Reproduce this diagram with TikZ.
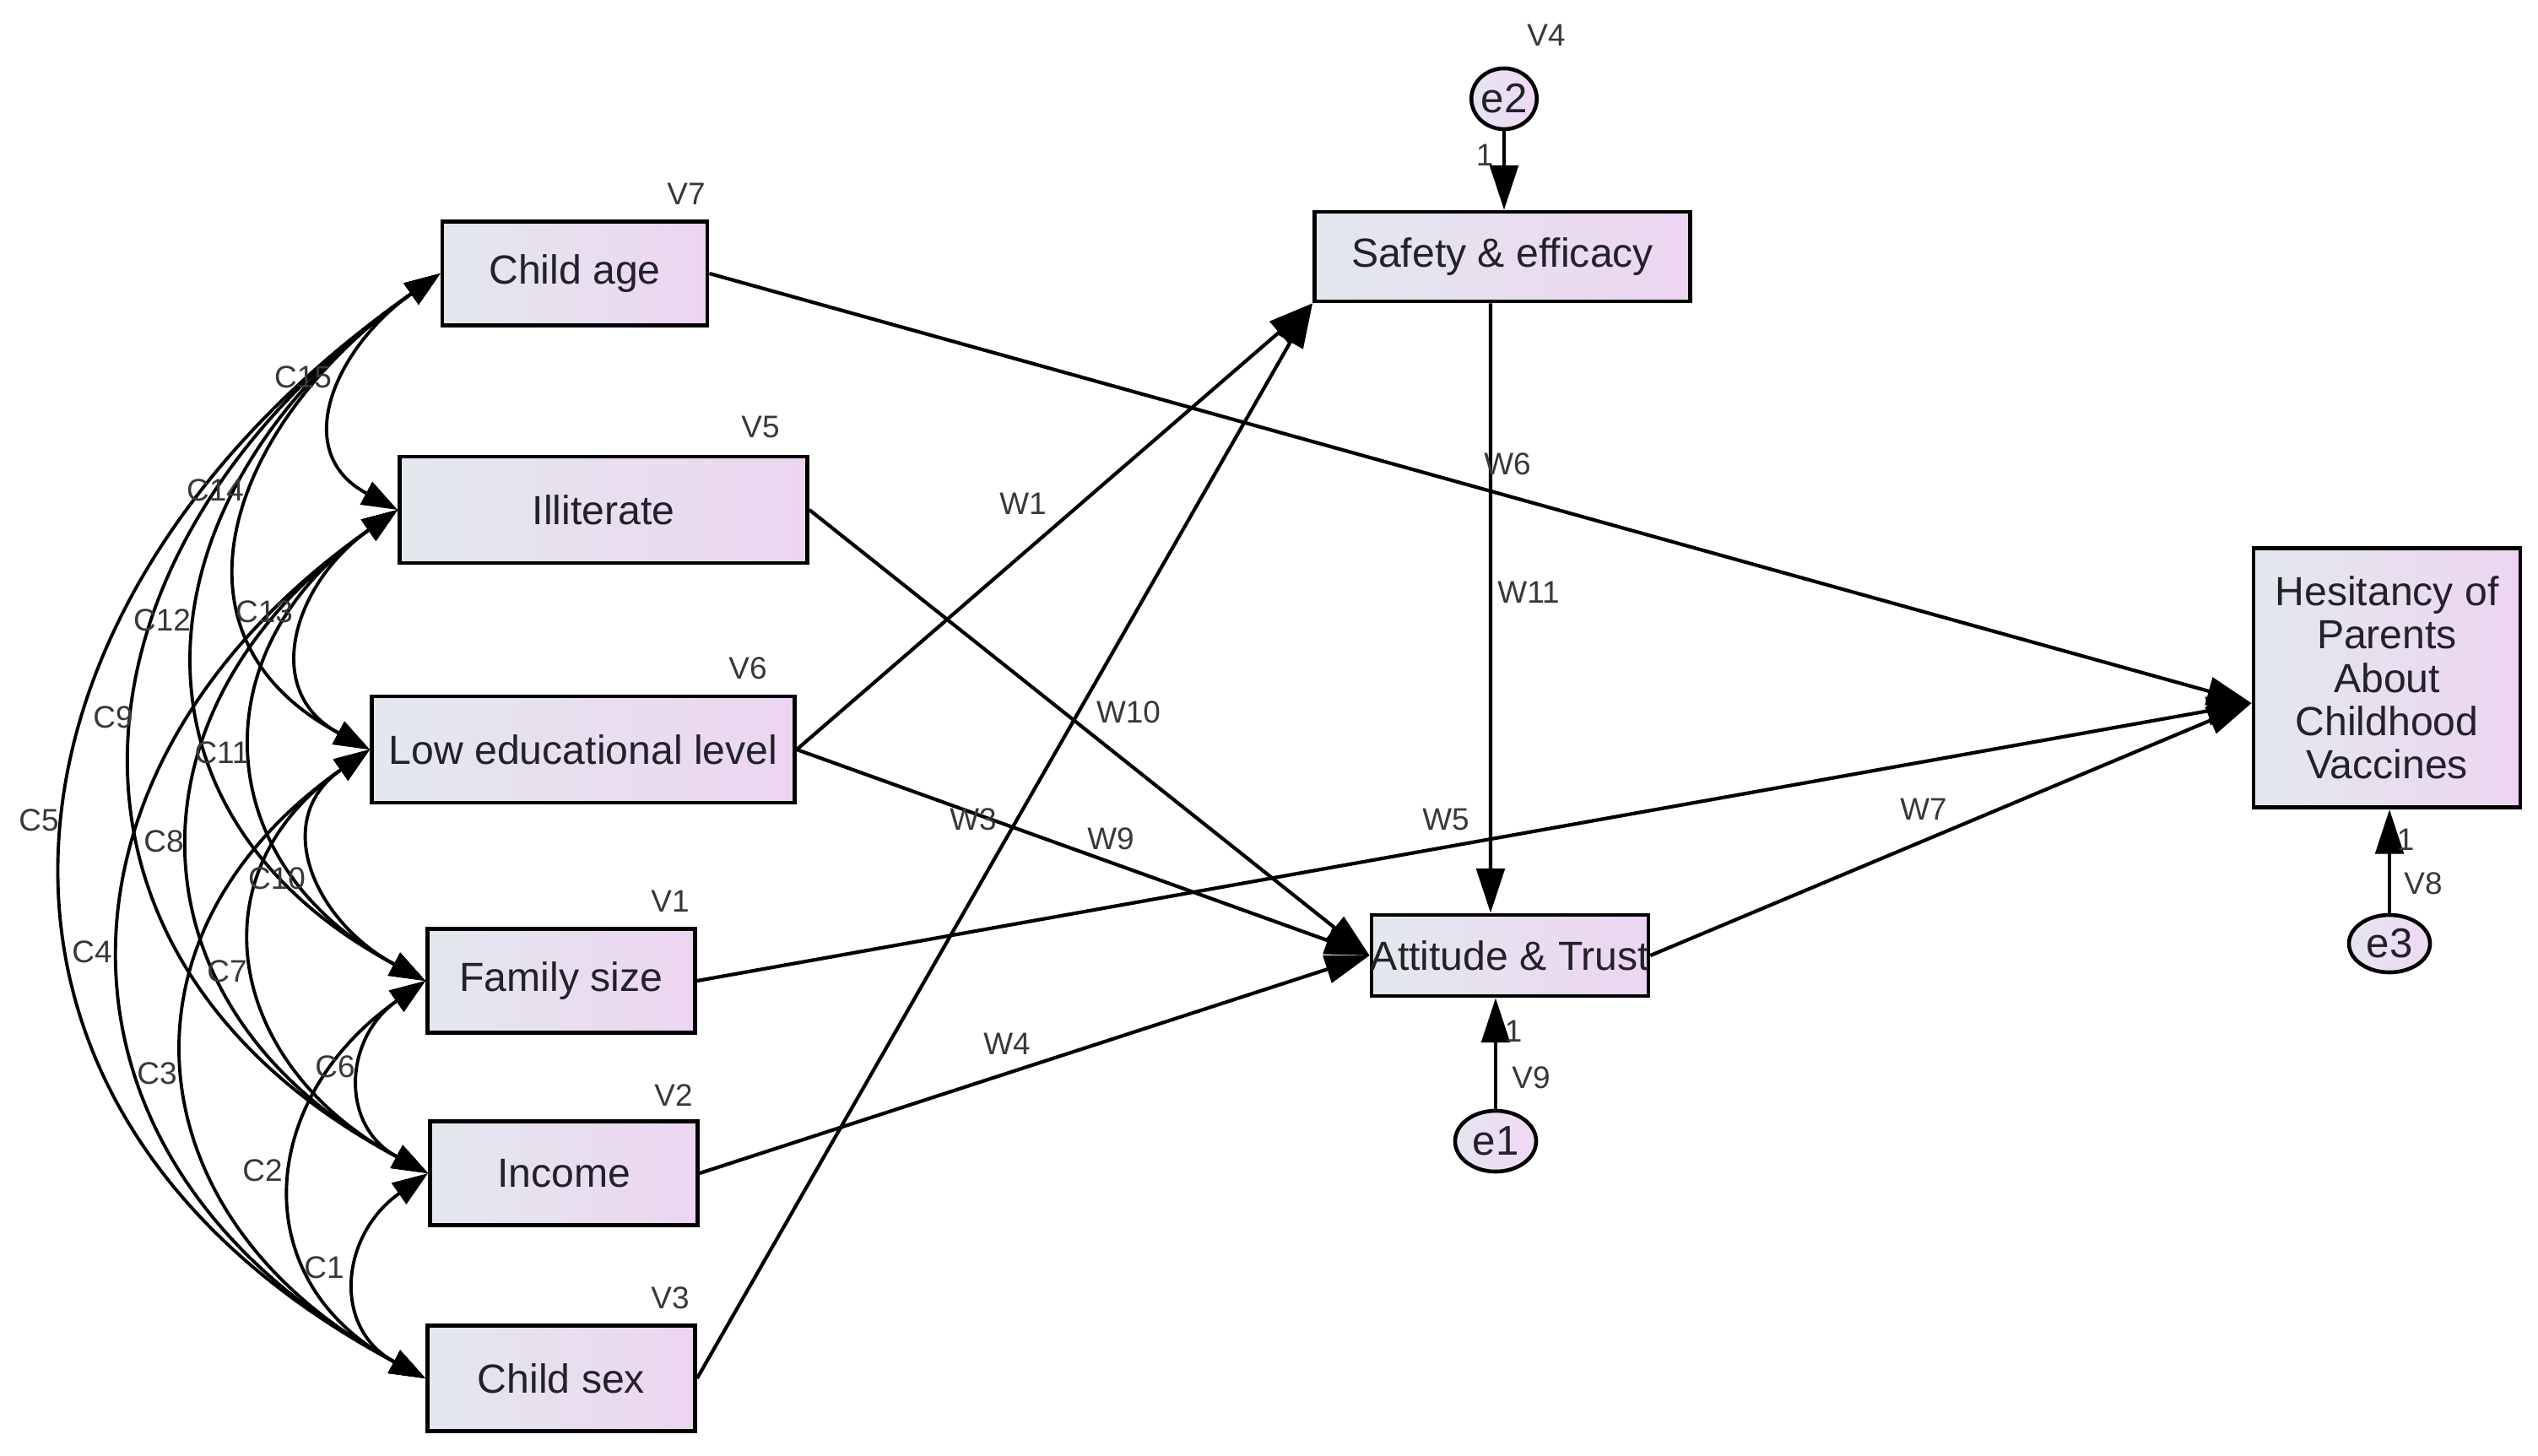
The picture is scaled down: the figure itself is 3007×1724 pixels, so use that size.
\documentclass[tikz,border=0pt]{standalone}
\usepackage{fontspec}
\setmainfont{Liberation Sans}
\usetikzlibrary{arrows.meta,shapes.geometric}
\definecolor{boxL}{HTML}{E3E8EE}
\definecolor{boxR}{HTML}{EDD5F1}
\definecolor{errL}{HTML}{E6E4F0}
\definecolor{errR}{HTML}{EFD9F4}
\definecolor{txt}{HTML}{222228}
\definecolor{lab}{HTML}{383838}
\begin{document}
\begin{tikzpicture}[x=0.01cm,y=0.01cm,
  box/.style={draw=black, line width=1.3pt, left color=boxL, right color=boxR,
    inner sep=0pt, font=\fontsize{13.7}{14.6}\selectfont, text=txt},
  err/.style={ellipse, draw=black, line width=1.3pt, left color=errL, right color=errR,
    inner sep=0pt, font=\fontsize{14}{15}\selectfont, text=txt},
  pth/.style={line width=1.2pt, -{Triangle[length=15pt,width=9.5pt]}},
  cov/.style={line width=1.1pt, {Triangle[length=12pt,width=8.5pt]}-{Triangle[length=12pt,width=8.5pt]},
    out=215, in=152, looseness=1.33},
  sm/.style={font=\fontsize{10.5}{12}\selectfont, text=lab, inner sep=0pt}]

\useasboundingbox (0,0) rectangle (3007,-1724);
\fill[white] (0,0) rectangle (3007,-1724);

% observed variables
\node[box, minimum width=3.14cm, minimum height=1.23cm] (ca) at (681,-324) {\makebox[0pt]{Child age}};
\node[box, minimum width=4.83cm, minimum height=1.26cm] (il) at (715,-604) {\makebox[0pt]{Illiterate}};
\node[box, minimum width=5.01cm, minimum height=1.26cm] (le) at (691,-888) {\makebox[0pt]{Low educational level}};
\node[box, minimum width=3.17cm, minimum height=1.23cm] (fs) at (665,-1162) {\makebox[0pt]{Family size}};
\node[box, minimum width=3.17cm, minimum height=1.23cm] (inc) at (668,-1390) {\makebox[0pt]{Income}};
\node[box, minimum width=3.17cm, minimum height=1.25cm] (cs) at (665,-1633) {\makebox[0pt]{Child sex}};
\node[box, minimum width=4.45cm, minimum height=1.06cm] (se) at (1780,-304) {\makebox[0pt]{Safety \& efficacy}};
\node[box, minimum width=3.28cm, minimum height=0.96cm] (at) at (1789,-1132) {\makebox[0pt]{Attitude \& Trust}};
\node[box, minimum width=3.16cm, minimum height=3.07cm, align=center] (he) at (2828,-803)
  {Hesitancy of\\Parents\\About\\Childhood\\Vaccines};

% error terms
\node[err, minimum width=0.70cm, minimum height=0.72cm] (e2) at (1782,-117) {e2};
\node[err, minimum width=0.96cm, minimum height=0.72cm] (e1) at (1772,-1352) {e1};
\node[err, minimum width=0.96cm, minimum height=0.68cm] (e3) at (2831,-1118) {e3};

% covariances
\draw[cov] (ca.west) to (il.west);
\draw[cov] (ca.west) to (le.west);
\draw[cov] (ca.west) to (fs.west);
\draw[cov] (ca.west) to (inc.west);
\draw[cov] (ca.west) to (cs.west);
\draw[cov] (il.west) to (le.west);
\draw[cov] (il.west) to (fs.west);
\draw[cov] (il.west) to (inc.west);
\draw[cov] (il.west) to (cs.west);
\draw[cov] (le.west) to (fs.west);
\draw[cov] (le.west) to (inc.west);
\draw[cov] (le.west) to (cs.west);
\draw[cov] (fs.west) to (inc.west);
\draw[cov] (fs.west) to (cs.west);
\draw[cov] (inc.west) to (cs.west);

% regression paths
\draw[pth] (ca.east) -- ([yshift=-0.30cm]he.west);
\draw[pth] (fs.east) -- ([yshift=-0.30cm]he.west);
\draw[pth] (at.east) -- ([yshift=-0.30cm]he.west);
\draw[pth] (il.east) -- (at.west);
\draw[pth] (le.east) -- (at.west);
\draw[pth] (inc.east) -- (at.west);
\draw[pth] (le.east) -- (se.south west);
\draw[pth] (cs.east) -- (se.south west);
\draw[pth] ([xshift=-0.14cm]se.south) -- ([xshift=-0.23cm]at.north);
\draw[pth] (e2.south) -- (e2.south |- se.north);
\draw[pth] (e1.north) -- (e1.north |- at.south);
\draw[pth] (e3.north) -- (e3.north |- he.south);

% variable labels
\node[sm] (lv7) at (813,-230) {V7};
\node[sm] (lv5) at (901,-506) {V5};
\node[sm] (lv6) at (886,-792) {V6};
\node[sm] (lv1) at (794,-1068) {V1};
\node[sm] (lv2) at (798,-1298) {V2};
\node[sm] (lv3) at (794,-1538) {V3};
\node[sm] (lv4) at (1832,-42) {V4};
\node[sm] (lv9) at (1814,-1277) {V9};
\node[sm] (lv8) at (2871,-1047) {V8};
\node[sm] (one2) at (1759,-184) {1};
\node[sm] (one1) at (1793,-1222) {1};
\node[sm] (one3) at (2850,-995) {1};

% path labels
\node[sm] (lw6) at (1786,-550) {W6};
\node[sm] (lw11) at (1811,-702) {W11};
\node[sm] (lw1) at (1212,-597) {W1};
\node[sm] (lw10) at (1337,-844) {W10};
\node[sm] (lw3) at (1153,-971) {W3};
\node[sm] (lw9) at (1316,-994) {W9};
\node[sm] (lw5) at (1713,-971) {W5};
\node[sm] (lw7) at (2279,-959) {W7};
\node[sm] (lw4) at (1193,-1237) {W4};

% covariance labels
\node[sm] (lc15) at (359,-447) {C15};
\node[sm] (lc14) at (255,-581) {C14};
\node[sm] (lc13) at (313,-725) {C13};
\node[sm] (lc12) at (192,-735) {C12};
\node[sm] (lc9) at (134,-850) {C9};
\node[sm] (lc11) at (263,-892) {C11};
\node[sm] (lc5) at (46,-972) {C5};
\node[sm] (lc8) at (194,-997) {C8};
\node[sm] (lc10) at (328,-1041) {C10};
\node[sm] (lc4) at (109,-1128) {C4};
\node[sm] (lc7) at (269,-1151) {C7};
\node[sm] (lc3) at (186,-1272) {C3};
\node[sm] (lc6) at (397,-1264) {C6};
\node[sm] (lc2) at (311,-1387) {C2};
\node[sm] (lc1) at (384,-1502) {C1};
\end{tikzpicture}
\end{document}
